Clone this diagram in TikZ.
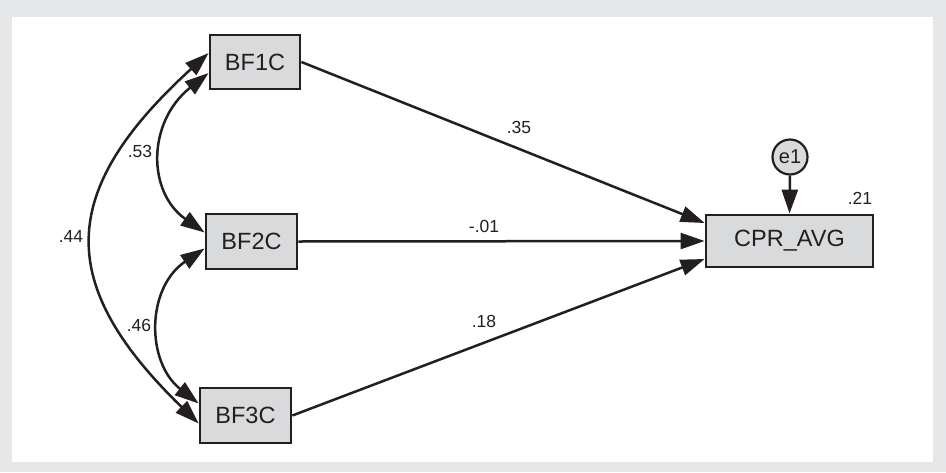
\documentclass[tikz,border=0pt]{standalone}
\usepackage{fontspec}
\setmainfont{Liberation Sans}
\usetikzlibrary{arrows.meta,calc}
\definecolor{bggrey}{RGB}{230,231,232}
\definecolor{boxfill}{RGB}{217,218,220}
\definecolor{ink}{RGB}{35,31,32}
\begin{document}
\begin{tikzpicture}[x=1pt,y=-1pt,
  varbox/.style={draw=ink,line width=2.8pt,fill=boxfill,inner sep=0pt,
    font=\fontsize{23.5}{26}\selectfont,text=ink},
  errnode/.style={circle,draw=ink,line width=2.2pt,fill=boxfill,minimum size=35pt,inner sep=0pt,
    font=\fontsize{20}{22}\selectfont,text=ink},
  path/.style={draw=ink,line width=2.5pt,-{Triangle[length=24pt,width=16pt]}},
  cov/.style={draw=ink,line width=2.5pt,{Triangle[length=24pt,width=16pt]}-{Triangle[length=24pt,width=16pt]}},
  coef/.style={font=\fontsize{17.5}{19}\selectfont,text=ink,inner sep=0pt}]
\useasboundingbox (0,0) rectangle (946,472);
\fill[bggrey] (0,0) rectangle (946,472);
\fill[white] (12,17) rectangle (933,462);
% variables
\node[varbox,minimum width=90pt,minimum height=54pt] (bf1) at (255,62) {BF1C};
\node[varbox,minimum width=91pt,minimum height=55pt] (bf2) at (251.5,241.5) {BF2C};
\node[varbox,minimum width=91pt,minimum height=55pt] (bf3) at (245.5,415.5) {BF3C};
\node[varbox,minimum width=167pt,minimum height=52pt] (cpr) at (789.5,241) {CPR\_AVG};
\node[errnode] (e1) at (790,157) {e1};
% endpoints
\coordinate (a1) at ($(bf1.west)+(0,-9)$);
\coordinate (a2) at ($(bf1.west)+(0,11)$);
\coordinate (b1) at ($(bf2.west)+(0,-9)$);
\coordinate (b2) at ($(bf2.west)+(0,7)$);
\coordinate (c1) at ($(bf3.west)+(0,-12)$);
\coordinate (c2) at ($(bf3.west)+(0,8)$);
\coordinate (r1) at ($(cpr.west)+(0,-18)$);
\coordinate (r3) at ($(cpr.west)+(0,18)$);
% covariances
\draw[cov] (a1) .. controls (56,192) and (56,285) .. (c2);
\draw[cov] (a2) .. controls (147,122) and (147,192) .. (b1);
\draw[cov] (b2) .. controls (146,288) and (146,362) .. (c1);
% paths
\draw[path] (bf1.east) -- (r1);
\draw[path] (bf2.east) -- (cpr.west);
\draw[path] (bf3.east) -- (r3);
\draw[path] (e1.south) -- (cpr.north);
% coefficients
\node[coef] (l35) at (519,127) {.35};
\node[coef] (l01) at (484,226) {-.01};
\node[coef] (l18) at (484,321) {.18};
\node[coef] (l53) at (140,151) {.53};
\node[coef] (l46) at (139,325) {.46};
\node[coef] (l44) at (71,236) {.44};
\node[coef] (l21) at (860,198) {.21};
\end{tikzpicture}
\end{document}
